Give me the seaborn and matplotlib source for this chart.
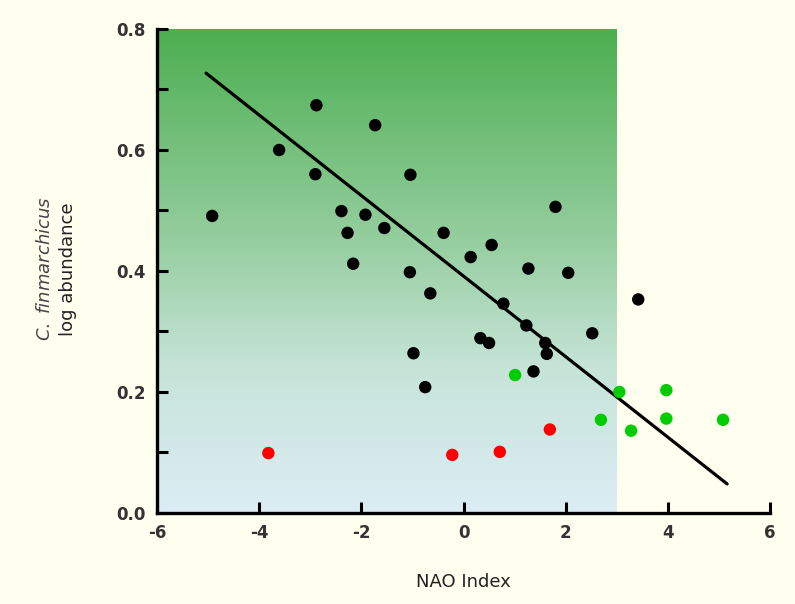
import numpy as np
import pandas as pd
import matplotlib
matplotlib.use("Agg")
import matplotlib.pyplot as plt
from matplotlib.colors import LinearSegmentedColormap
import seaborn as sns

# ---- data ----
black_x = [-4.92, -3.61, -2.88, -2.90, -2.39, -2.27, -2.16, -1.92, -1.73, -1.55,
           -1.04, -1.05, -0.98, -0.75, -0.65, -0.39, 0.14, 0.33, 0.50, 0.55,
           0.78, 1.23, 1.27, 1.37, 1.60, 1.63, 1.80, 2.05, 2.52, 3.42]
black_y = [0.491, 0.600, 0.674, 0.560, 0.499, 0.463, 0.412, 0.493, 0.641, 0.471,
           0.559, 0.398, 0.264, 0.208, 0.363, 0.463, 0.423, 0.289, 0.281, 0.443,
           0.346, 0.310, 0.404, 0.234, 0.281, 0.263, 0.506, 0.397, 0.297, 0.353]
green_x = [1.01, 3.05, 3.97, 2.69, 3.97, 3.28, 5.08]
green_y = [0.228, 0.200, 0.203, 0.154, 0.156, 0.136, 0.154]
red_x = [1.69, -0.22, 0.71, -3.82]
red_y = [0.138, 0.096, 0.101, 0.099]
line_x = [-5.04, 5.16]
line_y = [0.727, 0.048]
x_ticks = [-6, -4, -2, 0, 2, 4, 6]
y_ticks = [0.0, 0.2, 0.4, 0.6, 0.8]
shade_x = [-6, 3]

df = pd.DataFrame({
    "x": black_x + green_x + red_x,
    "y": black_y + green_y + red_y,
    "grp": ["black"] * len(black_x) + ["green"] * len(green_x) + ["red"] * len(red_x),
})
line_df = pd.DataFrame({"x": line_x, "y": line_y})

sns.set_theme(style="white")
plt.rcParams["font.family"] = ["DejaVu Sans"]

bg = "#fffff0"
fig = plt.figure(figsize=(7.95, 6.04), dpi=100, facecolor=bg)
ax = fig.add_axes([0.1975, 0.1507, 0.7711, 0.8013])
ax.set_facecolor(bg)

# gradient panel
cmap = LinearSegmentedColormap.from_list(
    "g", [(0.0, "#dcedf5"), (0.3, "#c6e4d8"), (0.55, "#98cfa2"), (1.0, "#4caf50")])
grad = np.linspace(0, 1, 256).reshape(-1, 1)
ax.imshow(grad, cmap=cmap, origin="lower", aspect="auto",
          extent=[shade_x[0], shade_x[1], y_ticks[0], y_ticks[-1]], zorder=0)

sns.lineplot(data=line_df, x="x", y="y", color="black", lw=2.3, ax=ax, zorder=2)
sns.scatterplot(data=df, x="x", y="y", hue="grp",
                palette={"black": "black", "green": "#00cc00", "red": "#ff0000"},
                s=80, edgecolor="none", legend=False, ax=ax, zorder=3)

ax.set_xlim(-6, 6)
ax.set_ylim(0, 0.8)
ax.set_xticks(x_ticks)
ax.set_xticklabels([f"{t:d}" for t in x_ticks])
ax.set_yticks(y_ticks)
ax.set_yticklabels([f"{t:.1f}" for t in y_ticks])
ax.set_yticks([0.1, 0.3, 0.5, 0.7], minor=True)

for s in ["top", "right"]:
    ax.spines[s].set_visible(False)
for s in ["left", "bottom"]:
    ax.spines[s].set_color("black")
    ax.spines[s].set_linewidth(2.4)

ax.tick_params(axis="both", which="both", direction="in", length=8, width=2.2,
               color="black", labelsize=12, labelcolor="#333333", pad=8)
ax.tick_params(axis="y", which="both", left=True)
ax.tick_params(axis="x", which="both", bottom=True)
for lab in ax.get_xticklabels() + ax.get_yticklabels():
    lab.set_fontweight("bold")

ax.set_xlabel("NAO Index", fontsize=13, color="#222222", labelpad=22)
ax.set_ylabel("")
fig.text(0.057, 0.555, r"$\it{C.\ finmarchicus}$", rotation=90, fontsize=13,
         color="#444444", ha="center", va="center")
fig.text(0.086, 0.555, "log abundance", rotation=90, fontsize=13,
         color="#222222", ha="center", va="center")

fig.savefig("out.png", dpi=100, facecolor=bg)
